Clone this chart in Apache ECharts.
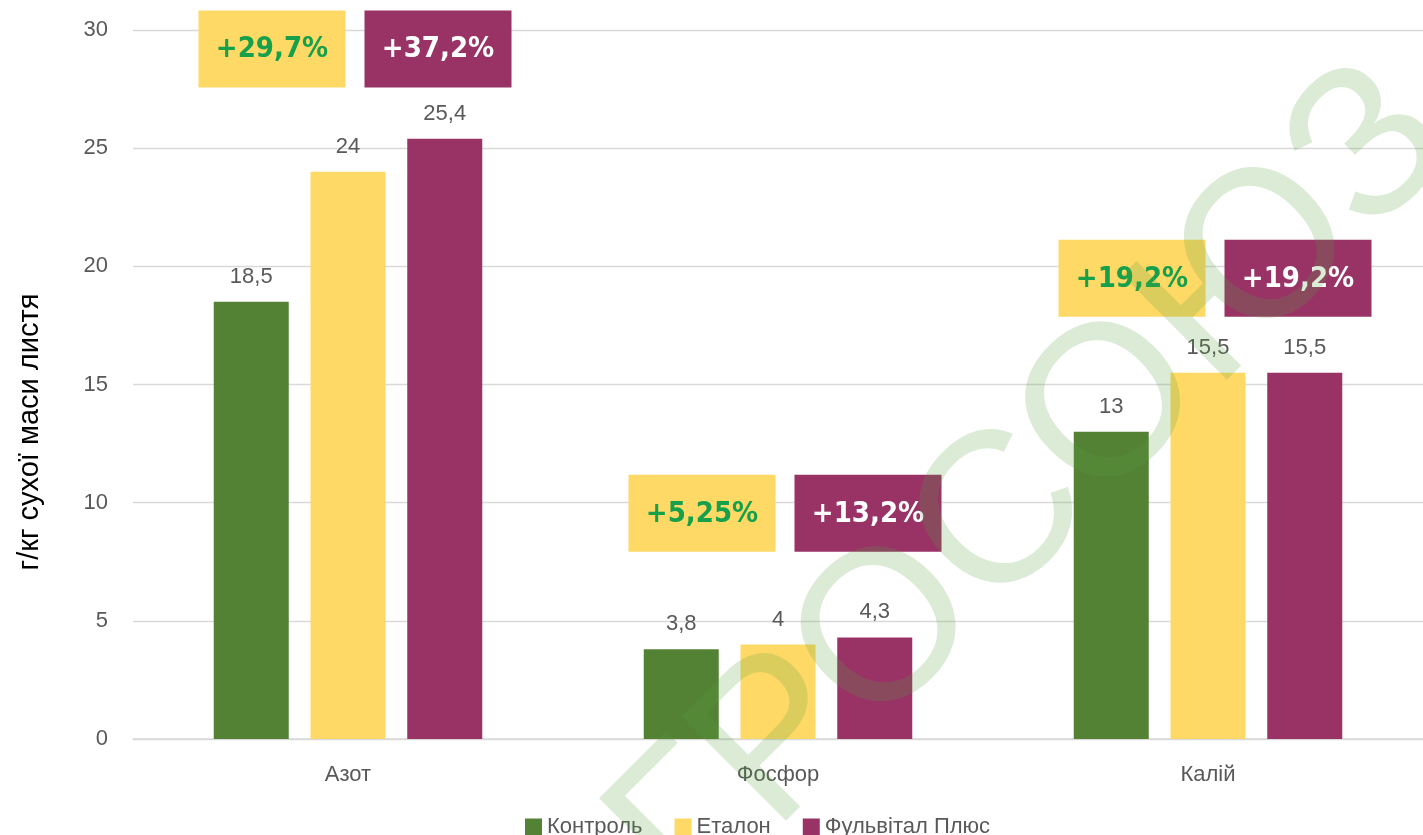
<!DOCTYPE html>
<html>
<head>
<meta charset="utf-8">
<script src="https://cdn.jsdelivr.net/npm/echarts@6/dist/echarts.min.js"></script>
<style>
  html, body { margin: 0; padding: 0; background: #fff; }
  #main { width: 1423px; height: 835px; }
</style>
</head>
<body>
<div id="main"></div>
<script>
var categories = ['Азот', 'Фосфор', 'Калій'];
var seriesNames = ['Контроль', 'Еталон', 'Фульвітал Плюс'];
var kontrol = [18.5, 3.8, 13];
var etalon = [24, 4, 15.5];
var fulvital = [25.4, 4.3, 15.5];
// приріст до контролю
var etalonGain = ['+29,7%', '+5,25%', '+19,2%'];
var fulvitalGain = ['+37,2%', '+13,2%', '+19,2%'];
var gainLevel = [29.2, 9.55, 19.5];
var yTicks = [0, 5, 10, 15, 20, 25, 30];

var colors = ['#548235', '#FFD966', '#993366'];
var labelFont = 'Liberation Sans, Arial, sans-serif';

function comma(v) {
    return String(v).replace('.', ',');
}

var chart = echarts.init(document.getElementById('main'));

function barSeries(name, data, color) {
    return {
        name: name,
        type: 'bar',
        data: data,
        barWidth: 75,
        barGap: '29%',
        itemStyle: { color: color },
        label: {
            show: true,
            position: 'top',
            distance: 14,
            color: '#595959',
            fontSize: 22,
            fontFamily: labelFont,
            formatter: function (p) { return comma(p.value); }
        }
    };
}

var option = {
    animation: false,
    backgroundColor: '#fff',
    grid: { left: 133, right: 0, top: 30, bottom: 96 },
    legend: {
        data: seriesNames,
        left: 520,
        top: 811,
        icon: 'rect',
        itemWidth: 17,
        itemHeight: 17,
        itemGap: 32,
        textStyle: { color: '#595959', fontSize: 22, fontFamily: labelFont }
    },
    xAxis: {
        type: 'category',
        data: categories,
        axisTick: { show: false },
        axisLine: { lineStyle: { color: '#d9d9d9', width: 1.5 } },
        axisLabel: { color: '#595959', fontSize: 22, fontFamily: labelFont, margin: 25 }
    },
    yAxis: {
        type: 'value',
        min: yTicks[0],
        max: yTicks[yTicks.length - 1],
        interval: 5,
        axisLine: { show: false },
        axisTick: { show: false },
        splitLine: { lineStyle: { color: '#d9d9d9', width: 1.3 } },
        axisLabel: { color: '#595959', fontSize: 22, fontFamily: labelFont, margin: 25 }
    },
    series: [
        barSeries(seriesNames[0], kontrol, colors[0]),
        barSeries(seriesNames[1], etalon, colors[1]),
        barSeries(seriesNames[2], fulvital, colors[2]),
        {
            type: 'custom',
            silent: true,
            clip: false,
            z: 5,
            data: gainLevel.map(function (v, i) { return [i, v]; }),
            renderItem: function (params, api) {
                var c = api.coord([api.value(0), api.value(1)]);
                var idx = params.dataIndex;
                var w = 147, h = 77;
                function box(dx, fill, txt, txtColor) {
                    return {
                        type: 'group',
                        children: [
                            { type: 'rect', shape: { x: c[0] + dx - w / 2, y: c[1] - h / 2, width: w, height: h }, style: { fill: fill } },
                            {
                                type: 'text',
                                x: c[0] + dx,
                                y: c[1] + 1,
                                style: {
                                    text: txt, fill: txtColor,
                                    fontSize: 29, fontWeight: 'bold',
                                    fontFamily: 'DejaVu Sans Condensed, DejaVu Sans, sans-serif',
                                    align: 'center', verticalAlign: 'middle'
                                }
                            }
                        ]
                    };
                }
                return {
                    type: 'group',
                    children: [
                        box(-76, colors[1], etalonGain[idx], '#17a04b'),
                        box(90, colors[2], fulvitalGain[idx], '#ffffff')
                    ]
                };
            }
        }
    ],
    graphic: [
        {
            type: 'text',
            x: 30,
            y: 432,
            rotation: Math.PI / 2,
            style: {
                text: 'г/кг сухої маси листя',
                fontSize: 29,
                fontFamily: labelFont,
                fill: '#000',
                align: 'center',
                verticalAlign: 'middle'
            }
        },
        {
            // водяний знак
            type: 'text',
            x: 983,
            y: 540,
            rotation: Math.PI / 4,
            silent: true,
            z: 100,
            style: {
                text: 'АГРОСОЮЗ',
                fontSize: 215,
                fontFamily: labelFont,
                fill: 'rgba(84,160,60,0.21)',
                align: 'center',
                verticalAlign: 'middle'
            }
        }
    ]
};

chart.setOption(option);
</script>
</body>
</html>
